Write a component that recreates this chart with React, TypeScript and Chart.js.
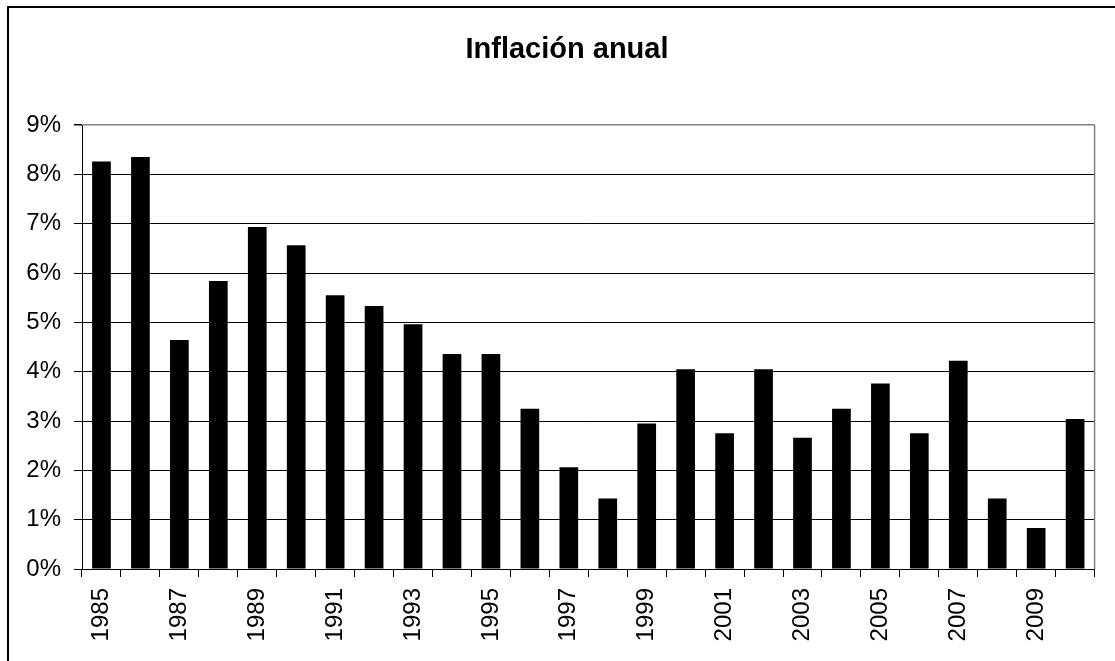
import React, { useEffect, useRef } from "react";
import { Chart, registerables } from "chart.js";

Chart.register(...registerables);

const TITLE = "Inflación anual";
const YEARS = [
  "1985", "1986", "1987", "1988", "1989", "1990", "1991", "1992", "1993",
  "1994", "1995", "1996", "1997", "1998", "1999", "2000", "2001", "2002",
  "2003", "2004", "2005", "2006", "2007", "2008", "2009", "2010",
];
const INFLATION = [
  8.26, 8.35, 4.64, 5.84, 6.93, 6.56, 5.55, 5.33, 4.96,
  4.36, 4.36, 3.25, 2.06, 1.43, 2.95, 4.05, 2.75, 4.05,
  2.66, 3.25, 3.76, 2.75, 4.22, 1.43, 0.83, 3.04,
];
const Y_MIN = 0;
const Y_MAX = 9;
const Y_STEP = 1;

const FONT = "'Liberation Sans', Arial, sans-serif";

const framePlugin = {
  id: "frame",
  afterDraw(chart: any) {
    const { ctx, chartArea } = chart;
    ctx.save();
    // outer chart border (extends beyond the visible area)
    ctx.strokeStyle = "#000";
    ctx.lineWidth = 2;
    ctx.strokeRect(8, 7, 1200, 800);
    // plot area right border (gray)
    ctx.strokeStyle = "#808080";
    ctx.lineWidth = 1.5;
    ctx.beginPath();
    ctx.moveTo(chartArea.right, chartArea.top);
    ctx.lineTo(chartArea.right, chartArea.bottom);
    ctx.stroke();
    // title
    ctx.fillStyle = "#000";
    ctx.font = `bold 29px ${FONT}`;
    ctx.textAlign = "center";
    ctx.textBaseline = "alphabetic";
    ctx.fillText(TITLE, 567, 58);
    ctx.restore();
  },
};

export default function App() {
  const ref = useRef<HTMLCanvasElement | null>(null);

  useEffect(() => {
    if (!ref.current) return;
    const chart = new Chart(ref.current, {
      type: "bar",
      data: {
        labels: YEARS,
        datasets: [
          {
            label: TITLE,
            data: INFLATION,
            backgroundColor: "#000",
            borderWidth: 0,
            barPercentage: 0.48,
            categoryPercentage: 1,
          },
        ],
      },
      options: {
        responsive: false,
        animation: false,
        layout: { padding: { top: 125, right: 5, left: 0, bottom: 0 } },
        plugins: {
          legend: { display: false },
          title: { display: false },
          tooltip: { enabled: false },
        },
        scales: {
          x: {
            offset: true,
            grid: {
              offset: true,
              drawOnChartArea: false,
              drawTicks: true,
              tickLength: 8,
              tickColor: "#000",
              color: "#000",
            },
            border: { display: true, color: "#000", width: 1 },
            ticks: {
              autoSkip: false,
              minRotation: 90,
              maxRotation: 90,
              padding: 11,
              color: "#000",
              font: { family: FONT, size: 24 },
              callback: (_v: any, i: number) => (i % 2 === 0 ? YEARS[i] : ""),
            },
            afterFit: (scale: any) => {
              scale.height = 92;
            },
          },
          y: {
            min: Y_MIN,
            max: Y_MAX,
            grid: {
              color: (ctx: any) =>
                ctx.tick && ctx.tick.value === Y_MAX ? "#808080" : "#000",
              lineWidth: (ctx: any) =>
                ctx.tick && ctx.tick.value === Y_MAX ? 1.5 : 1,
              tickColor: "#000",
              tickLength: 8,
              drawTicks: true,
            },
            border: { display: true, color: "#000", width: 1 },
            ticks: {
              stepSize: Y_STEP,
              padding: 13,
              color: "#000",
              font: { family: FONT, size: 24 },
              callback: (v: any) => `${v}%`,
            },
            afterFit: (scale: any) => {
              scale.width = 82;
            },
          },
        },
      },
      plugins: [framePlugin],
    });
    return () => chart.destroy();
  }, []);

  return (
    <div
      style={{
        position: "fixed",
        left: 0,
        top: 0,
        width: 1115,
        height: 661,
        background: "#fff",
        overflow: "hidden",
      }}
    >
      <canvas ref={ref} width={1115} height={661} style={{ display: "block" }} />
    </div>
  );
}
